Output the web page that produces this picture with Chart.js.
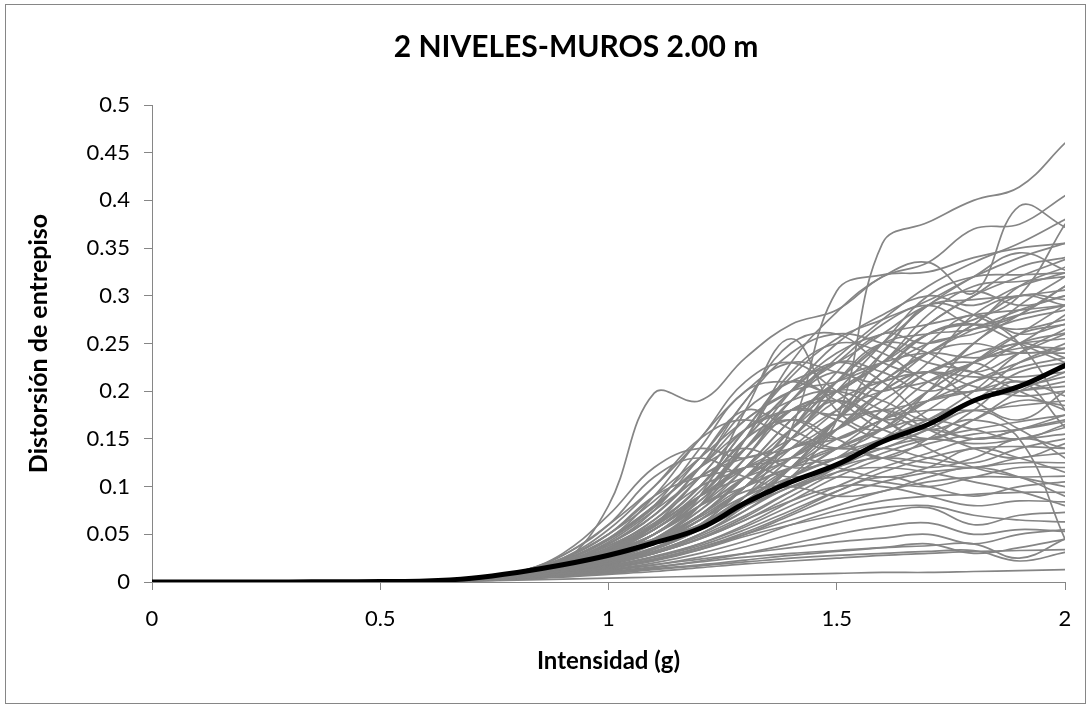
<!DOCTYPE html>
<html>
<head>
<meta charset="utf-8">
<title>2 NIVELES-MUROS 2.00 m</title>
<script src="https://cdn.jsdelivr.net/npm/chart.js@4.4.0/dist/chart.umd.min.js"></script>
<style>
  html, body { margin: 0; padding: 0; background: #fff; }
  #wrap { position: relative; width: 1091px; height: 704px; }
  #frame { position: absolute; left: 5px; top: 4px; width: 1081px; height: 700px; border: 1px solid #868686; box-sizing: border-box; pointer-events: none; }
</style>
</head>
<body>
<div id="wrap">
  <canvas id="drift" width="1091" height="704"></canvas>
  <div id="frame"></div>
</div>
<script>
const chartTitle = '2 NIVELES-MUROS 2.00 m';
const xTitle = 'Intensidad (g)';
const yTitle = 'Distorsión de entrepiso';

// intensidad (g), cada 0.1
const intensity = [0, 0.1, 0.2, 0.3, 0.4, 0.5, 0.6, 0.7, 0.8, 0.9, 1.0,
                   1.1, 1.2, 1.3, 1.4, 1.5, 1.6, 1.7, 1.8, 1.9, 2.0];

// curva media (negra)
const meanDrift = [0, 0, 0, 0, 0.0003, 0.0005, 0.001, 0.004, 0.010, 0.018, 0.028,
                   0.041, 0.056, 0.083, 0.105, 0.123, 0.147, 0.165, 0.190, 0.205, 0.227];

// todos los registros valen 0 hasta 0.5 g
const flatStart = [0, 0, 0, 0, 0, 0];

// registros individuales, de 0.6 g a 2.0 g
const recordDrifts = [
  [.001,.004,.010,.020,.032,.045,.060,.085,.120,.170,.355,.377,.400,.414,.460],
  [.001,.003,.006,.020,.080,.198,.190,.235,.270,.285,.320,.335,.370,.375,.405],
  [.001,.003,.008,.016,.028,.045,.080,.150,.230,.283,.320,.335,.303,.394,.372],
  [.001,.002,.006,.014,.025,.040,.060,.090,.160,.305,.322,.325,.340,.350,.355],
  [.001,.003,.008,.018,.032,.055,.090,.140,.190,.235,.275,.310,.335,.355,.380],
  [.001,.003,.009,.020,.035,.060,.100,.160,.215,.255,.275,.295,.320,.340,.355],
  [.001,.003,.007,.015,.028,.045,.070,.110,.160,.210,.250,.290,.320,.345,.327],
  [.001,.002,.006,.014,.026,.042,.065,.100,.150,.200,.250,.300,.320,.322,.324],
  [.001,.003,.008,.018,.030,.050,.085,.130,.180,.200,.230,.280,.310,.315,.320],
  [.001,.003,.008,.018,.030,.050,.090,.180,.255,.180,.160,.200,.250,.280,.310],
  [.001,.003,.008,.020,.040,.070,.120,.180,.210,.230,.260,.290,.296,.300,.306],
  [.001,.002,.005,.012,.022,.035,.055,.080,.120,.170,.240,.290,.305,.290,.300],
  [.001,.003,.009,.022,.045,.090,.150,.200,.230,.220,.210,.240,.270,.300,.296],
  [.001,.003,.007,.015,.025,.040,.060,.100,.140,.180,.220,.260,.275,.300,.375],
  [.001,.003,.008,.018,.035,.060,.100,.150,.200,.240,.260,.270,.280,.285,.290],
  [.001,.002,.005,.012,.020,.032,.050,.080,.120,.170,.220,.250,.260,.275,.285],
  [.001,.003,.010,.025,.050,.090,.130,.170,.200,.210,.230,.260,.270,.265,.275],
  [.001,.002,.006,.014,.026,.045,.070,.110,.140,.160,.200,.250,.280,.260,.270],
  [.001,.003,.008,.017,.030,.050,.080,.130,.190,.230,.220,.200,.220,.250,.261],
  [.001,.002,.006,.013,.024,.040,.065,.100,.130,.160,.190,.220,.240,.250,.255],
  [.001,.003,.009,.020,.035,.055,.090,.150,.220,.250,.240,.210,.200,.230,.250],
  [.001,.002,.005,.011,.020,.034,.055,.085,.120,.150,.170,.200,.230,.245,.245],
  [.001,.003,.007,.016,.028,.045,.075,.120,.170,.210,.230,.240,.235,.240,.240],
  [.001,.002,.006,.013,.023,.040,.070,.110,.140,.150,.170,.190,.210,.225,.235],
  [.001,.003,.008,.018,.032,.050,.080,.110,.160,.200,.190,.170,.190,.220,.230],
  [.001,.002,.005,.012,.021,.035,.060,.100,.150,.190,.210,.220,.215,.215,.220],
  [.001,.003,.008,.016,.027,.040,.060,.090,.120,.140,.160,.190,.200,.205,.215],
  [.001,.002,.006,.014,.025,.045,.080,.130,.180,.170,.150,.160,.190,.200,.210],
  [.001,.003,.007,.015,.026,.042,.065,.090,.110,.130,.150,.170,.190,.200,.205],
  [.001,.002,.005,.012,.020,.032,.050,.075,.110,.160,.200,.220,.205,.195,.200],
  [.001,.003,.009,.020,.038,.065,.110,.160,.180,.175,.180,.190,.200,.210,.195],
  [.001,.002,.006,.013,.022,.036,.055,.080,.110,.140,.170,.180,.180,.185,.190],
  [.001,.003,.008,.020,.040,.070,.120,.190,.240,.260,.250,.230,.220,.200,.180],
  [.001,.003,.009,.022,.045,.080,.140,.200,.210,.200,.240,.290,.280,.250,.180],
  [.001,.002,.006,.015,.030,.060,.110,.160,.190,.200,.180,.160,.170,.150,.045],
  [.001,.003,.008,.018,.034,.060,.100,.150,.200,.230,.210,.170,.150,.160,.170],
  [.001,.002,.007,.016,.030,.050,.090,.140,.170,.150,.130,.150,.180,.210,.162],
  [.001,.002,.005,.011,.019,.030,.045,.065,.090,.115,.135,.150,.160,.168,.175],
  [.001,.002,.004,.009,.016,.026,.040,.060,.085,.110,.130,.145,.155,.160,.168],
  [.001,.003,.007,.015,.025,.040,.060,.080,.100,.120,.140,.150,.145,.150,.162],
  [.001,.002,.005,.010,.017,.027,.040,.058,.080,.100,.120,.135,.150,.150,.155],
  [.001,.002,.006,.013,.022,.035,.055,.080,.110,.130,.140,.130,.125,.140,.150],
  [.001,.002,.004,.009,.015,.024,.036,.052,.072,.095,.115,.130,.140,.142,.140],
  [.001,.002,.005,.011,.019,.030,.046,.068,.095,.120,.130,.125,.120,.130,.135],
  [.001,.002,.004,.008,.014,.022,.034,.050,.070,.090,.105,.115,.120,.125,.125],
  [.001,.002,.005,.012,.020,.032,.050,.075,.100,.110,.105,.100,.110,.120,.120],
  [.001,.002,.004,.009,.015,.024,.036,.050,.065,.080,.095,.105,.110,.110,.111],
  [.001,.002,.005,.010,.017,.026,.038,.055,.075,.095,.110,.100,.090,.100,.105],
  [.001,.002,.004,.008,.013,.020,.030,.043,.060,.075,.085,.090,.092,.094,.094],
  [.001,.002,.005,.011,.019,.030,.045,.065,.085,.100,.100,.090,.080,.085,.084],
  [.001,.002,.004,.007,.012,.018,.026,.037,.050,.062,.072,.078,.060,.070,.073],
  [.001,.002,.004,.009,.015,.023,.034,.048,.060,.070,.078,.080,.070,.065,.063],
  [.001,.002,.003,.006,.010,.015,.022,.030,.040,.050,.058,.062,.050,.055,.053],
  [.000,.001,.002,.003,.004,.005,.006,.007,.008,.009,.010,.010,.011,.012,.013],
  [.001,.002,.003,.006,.009,.013,.017,.021,.025,.028,.030,.032,.033,.022,.031],
  [.001,.002,.004,.007,.011,.016,.021,.026,.030,.033,.036,.038,.040,.025,.045],
  [.001,.001,.003,.005,.008,.011,.015,.019,.022,.025,.028,.030,.032,.033,.034],
  [.001,.002,.003,.006,.010,.014,.018,.023,.028,.032,.036,.040,.030,.036,.045],
  [.001,.002,.004,.008,.013,.018,.024,.030,.036,.042,.046,.050,.040,.050,.055],
  [.001,.003,.010,.030,.070,.120,.140,.130,.150,.180,.200,.210,.230,.250,.280],
  [.001,.003,.009,.025,.055,.100,.150,.170,.150,.140,.160,.200,.230,.260,.290],
  [.001,.003,.008,.022,.045,.080,.120,.160,.180,.190,.170,.150,.170,.200,.220],
  [.001,.003,.010,.028,.060,.110,.130,.110,.100,.120,.150,.180,.210,.230,.245],
  [.001,.002,.008,.020,.040,.075,.130,.180,.160,.140,.150,.170,.200,.240,.265],
  [.001,.003,.009,.024,.050,.090,.110,.120,.140,.170,.210,.240,.250,.240,.245],
  [.001,.002,.006,.014,.026,.044,.070,.110,.160,.220,.260,.250,.270,.310,.330],
  [.001,.003,.008,.018,.032,.055,.090,.140,.200,.250,.280,.300,.290,.310,.324],
  [.001,.002,.006,.013,.024,.040,.065,.100,.150,.200,.230,.270,.300,.320,.338],
  [.001,.003,.007,.016,.030,.050,.080,.120,.170,.210,.250,.260,.265,.280,.310],
  [.001,.002,.005,.012,.022,.036,.058,.090,.130,.170,.210,.240,.265,.285,.300],
  [.001,.003,.010,.028,.060,.100,.150,.210,.230,.200,.170,.190,.230,.260,.270],
  [.001,.003,.009,.024,.050,.085,.130,.190,.250,.260,.230,.220,.250,.290,.320],
  [.001,.002,.007,.018,.036,.065,.100,.120,.150,.210,.250,.240,.220,.240,.260],
  [.001,.003,.008,.020,.042,.075,.110,.140,.190,.220,.200,.230,.280,.300,.290],
  [.001,.002,.007,.017,.033,.058,.095,.150,.170,.150,.180,.220,.230,.210,.225],
  [.001,.003,.009,.022,.044,.078,.120,.140,.120,.130,.170,.210,.230,.250,.235],
  [.001,.002,.006,.015,.030,.055,.090,.120,.130,.160,.200,.220,.190,.170,.200],
  [.001,.003,.008,.020,.038,.062,.100,.160,.210,.190,.160,.150,.170,.190,.185],
  [.001,.002,.006,.014,.028,.050,.085,.120,.110,.120,.150,.160,.150,.160,.175],
  [.001,.003,.009,.021,.040,.070,.110,.130,.140,.160,.180,.160,.140,.130,.145],
  [.001,.002,.006,.015,.029,.050,.080,.100,.120,.140,.130,.120,.130,.150,.140],
  [.001,.002,.005,.013,.025,.045,.075,.110,.130,.120,.110,.120,.140,.130,.115],
  [.001,.003,.008,.019,.036,.060,.090,.120,.160,.190,.170,.140,.120,.110,.100],
  [.001,.002,.006,.014,.026,.044,.070,.100,.120,.130,.140,.160,.180,.160,.130],
  [.001,.002,.005,.012,.024,.042,.068,.095,.100,.090,.095,.110,.120,.110,.090],
  [.001,.003,.008,.018,.034,.058,.090,.110,.130,.170,.220,.260,.270,.250,.230],
  [.001,.002,.007,.016,.031,.055,.090,.140,.180,.200,.230,.270,.300,.330,.340],
  [.001,.003,.009,.023,.046,.080,.120,.170,.200,.230,.270,.290,.270,.280,.290],
  [.001,.002,.005,.011,.020,.034,.055,.080,.110,.140,.160,.170,.160,.150,.165],
  [.001,.002,.004,.010,.018,.030,.048,.070,.095,.115,.120,.115,.105,.095,.080]
];

const yTicks = [0, 0.05, 0.1, 0.15, 0.2, 0.25, 0.3, 0.35, 0.4, 0.45, 0.5];
const xTicks = [0, 0.5, 1, 1.5, 2];

function toPoints(values) {
  return values.map((y, i) => ({ x: intensity[i], y: y }));
}

const fmt = v => String(Number(v.toFixed(2)));

const datasets = [{
  data: toPoints(meanDrift),
  borderColor: '#000000',
  borderWidth: 5
}];

recordDrifts.forEach(run => {
  datasets.push({
    data: toPoints(flatStart.concat(run)),
    borderColor: '#858585',
    borderWidth: 1.7
  });
});

// titulo del grafico dibujado a mano para fijar su posicion
const titlePlugin = {
  id: 'chartTitle',
  afterDraw(chart) {
    const ctx = chart.ctx;
    ctx.save();
    ctx.fillStyle = '#000';
    ctx.font = 'bold 30px Lato';
    ctx.textAlign = 'center';
    ctx.textBaseline = 'middle';
    ctx.fillText(chartTitle, 576, 47);
    ctx.restore();
  }
};

const canvas = document.getElementById('drift');

new Chart(canvas, {
  type: 'line',
  data: { datasets: datasets },
  plugins: [titlePlugin],
  options: {
    responsive: false,
    animation: false,
    events: [],
    elements: {
      point: { radius: 0 },
      line: { tension: 0.4, fill: false, borderCapStyle: 'round', borderJoinStyle: 'round' }
    },
    layout: { padding: { left: 0, right: 26, top: 105, bottom: 0 } },
    plugins: {
      legend: { display: false },
      tooltip: { enabled: false },
      title: { display: false }
    },
    scales: {
      x: {
        type: 'linear',
        min: 0,
        max: 2,
        afterBuildTicks: s => { s.ticks = xTicks.map(v => ({ value: v })); },
        afterFit: s => { s.height = 122; },
        ticks: {
          color: '#000',
          font: { family: 'Lato', size: 22 },
          padding: 16,
          maxRotation: 0,
          callback: v => fmt(v)
        },
        grid: { display: true, drawOnChartArea: false, drawTicks: true, tickLength: 8, color: '#868686' },
        border: { display: true, color: '#868686', width: 1 },
        title: {
          display: true,
          text: xTitle,
          color: '#000',
          font: { family: 'Lato', size: 24, weight: 'bold' },
          padding: { top: 0, bottom: 28 }
        }
      },
      y: {
        min: 0,
        max: 0.5,
        afterBuildTicks: s => { s.ticks = yTicks.map(v => ({ value: v })); },
        afterFit: s => { s.width = 152; },
        ticks: {
          color: '#000',
          font: { family: 'Lato', size: 22 },
          padding: 14,
          callback: v => fmt(v)
        },
        grid: { display: true, drawOnChartArea: false, drawTicks: true, tickLength: 8, color: '#868686' },
        border: { display: true, color: '#868686', width: 1 },
        title: {
          display: true,
          text: yTitle,
          color: '#000',
          font: { family: 'Lato', size: 25, weight: 'bold' },
          padding: { top: 24, bottom: 0 }
        }
      }
    }
  }
});
</script>
</body>
</html>
